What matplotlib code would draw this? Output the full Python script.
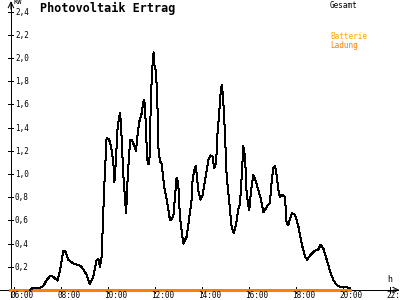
import matplotlib.pyplot as plt

# Gesamt (kW) over time of day (hours)
hours = [6.68, 6.82, 7.11, 7.25, 7.39, 7.53, 7.67, 7.82, 7.85, 7.96, 8.10, 8.17, 8.31, 8.52, 8.74,
         8.88, 9.09, 9.23, 9.37, 9.52, 9.59, 9.66, 9.73, 9.80, 9.84, 9.94, 10.04, 10.13, 10.23,
         10.27, 10.33, 10.41, 10.51, 10.55, 10.65, 10.77, 10.84, 10.94, 11.03, 11.12, 11.19, 11.26,
         11.33, 11.43, 11.52, 11.57, 11.65, 11.69, 11.76, 11.83, 11.89, 11.94, 11.97, 12.01, 12.09,
         12.14, 12.21, 12.29, 12.34, 12.40, 12.50, 12.64, 12.78, 12.92, 12.99, 13.06, 13.20, 13.35,
         13.56, 13.60, 13.70, 13.74, 13.84, 13.94, 14.03, 14.13, 14.27, 14.37, 14.46, 14.51, 14.60,
         14.65, 14.74, 14.80, 14.85, 14.91, 14.97, 15.05, 15.16, 15.26, 15.35, 15.45, 15.54, 15.62,
         15.69, 15.76, 15.83, 15.90, 15.97, 16.01, 16.09, 16.18, 16.27, 16.40, 16.51, 16.61, 16.71,
         16.80, 16.89, 16.96, 17.03, 17.11, 17.18, 17.25, 17.32, 17.43, 17.53, 17.60, 17.67, 17.82,
         17.96, 18.10, 18.24, 18.38, 18.48, 18.60, 18.81, 18.95, 19.05, 19.16, 19.31, 19.45, 19.59,
         19.73, 19.87, 20.01, 20.16, 20.30]
gesamt = [0.00, 0.02, 0.02, 0.035, 0.086, 0.12, 0.115, 0.086, 0.08, 0.17, 0.34, 0.34, 0.26, 0.23, 0.215,
          0.20, 0.13, 0.05, 0.115, 0.26, 0.27, 0.20, 0.29, 0.66, 0.89, 1.31, 1.30, 1.24, 1.09,
          0.93, 1.09, 1.41, 1.53, 1.44, 1.00, 0.66, 0.98, 1.29, 1.29, 1.24, 1.20, 1.34,
          1.45, 1.52, 1.64, 1.60, 1.22, 1.09, 1.09, 1.68, 1.93, 2.05, 1.94, 1.93, 1.72,
          1.24, 1.11, 1.09, 0.98, 0.88, 0.78, 0.60, 0.63, 0.97, 0.92, 0.63, 0.40, 0.46,
          0.78, 0.95, 1.06, 1.07, 0.86, 0.78, 0.82, 0.95, 1.12, 1.16, 1.15, 1.05, 1.09,
          1.32, 1.55, 1.72, 1.77, 1.61, 1.38, 0.98, 0.75, 0.55, 0.49, 0.57, 0.69, 0.75,
          0.98, 1.24, 1.15, 0.83, 0.73, 0.69, 0.86, 0.99, 0.95, 0.86, 0.78, 0.67, 0.70,
          0.73, 0.75, 0.92, 1.05, 1.07, 0.98, 0.86, 0.80, 0.82, 0.80, 0.58, 0.56, 0.66,
          0.65, 0.55, 0.40, 0.29, 0.26, 0.30, 0.34, 0.35, 0.39, 0.36, 0.26, 0.16, 0.086,
          0.043, 0.03, 0.023, 0.023, 0.015]

# Batterie Ladung
bat_hours = [5.83, 20.30]
bat_ladung = [0.0, 0.0]

yticks = [0.2, 0.4, 0.6, 0.8, 1.0, 1.2, 1.4, 1.6, 1.8, 2.0, 2.2, 2.4]
ytick_labels = ["0,2", "0,4", "0,6", "0,8", "1,0", "1,2", "1,4", "1,6", "1,8", "2,0", "2,2", "2,4"]
xticks = [6, 8, 10, 12, 14, 16, 18, 20, 22]
xtick_labels = ["06:00", "08:00", "10:00", "12:00", "14:00", "16:00", "18:00", "20:00", "22:00"]

x0 = 5.87  # position of the y axis
mono = "DejaVu Sans Mono"
px = 0.72  # one pixel in points

fig = plt.figure(figsize=(4, 3), dpi=100)
ax = fig.add_axes([0, 0, 1, 1])
ax.set_xlim(5.404, 22.426)
ax.set_ylim(-0.0862, 2.5)
ax.axis("off")

# axes with arrows
ax.plot([5.404, 22.35], [0, 0], color="black", lw=px, antialiased=False)
ax.plot([x0, x0], [-0.06, 2.48], color="black", lw=px, antialiased=False)
ax.annotate("", xy=(22.4, 0), xytext=(22.15, 0),
            arrowprops=dict(arrowstyle="->", lw=px, color="black", shrinkA=0, shrinkB=0))
ax.annotate("", xy=(x0, 2.49), xytext=(x0, 2.42),
            arrowprops=dict(arrowstyle="->", lw=px, color="black", shrinkA=0, shrinkB=0))

# ticks
for v, lab in zip(yticks, ytick_labels):
    ax.plot([x0 - 0.13, x0 + 0.09], [v, v], color="black", lw=px, antialiased=False)
    ax.text(x0 + 0.17, v - 0.005, lab, fontsize=5.5, family=mono, ha="left", va="center")
for h, lab in zip(xticks, xtick_labels):
    ax.plot([h, h], [-0.03, 0.03], color="black", lw=px, antialiased=False)
    ax.text(h + 0.34, -0.083, lab, fontsize=5.5, family=mono, ha="center", va="bottom")

ax.text(21.98, 0.05, "h", fontsize=6, family=mono, ha="center", va="bottom")
ax.text(x0 + 0.1, 2.51, "KW", fontsize=5, family=mono, ha="left", va="top")
ax.text(7.1, 2.485, "Photovoltaik Ertrag", fontsize=8.5, family=mono, weight="bold",
        ha="left", va="top")

# series
ax.plot(bat_hours, bat_ladung, color="#ff8000", lw=1.0, antialiased=False)
ax.plot(hours, gesamt, color="black", lw=px, antialiased=False)

# legend text
ax.text(19.45, 2.49, "Gesamt", fontsize=5.5, family=mono, color="black", ha="left", va="top")
ax.text(19.45, 2.22, "Batterie", fontsize=5.5, family=mono, color="#ffa500", ha="left", va="top")
ax.text(19.45, 2.15, "Ladung", fontsize=5.5, family=mono, color="#ff7f00", ha="left", va="top")

fig.savefig("out.png", dpi=100)
